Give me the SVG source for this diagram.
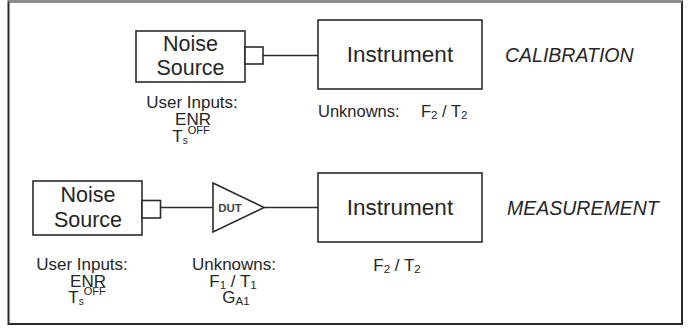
<svg xmlns="http://www.w3.org/2000/svg" width="690" height="328" viewBox="0 0 690 328">
<style>
.box{fill:#fff;stroke:#2b2b2b;stroke-width:1.6}
.ln{fill:none;stroke:#2b2b2b;stroke-width:1.6}
text{font-family:"Liberation Sans",Arial,sans-serif;fill:#262626}
.nb{font-size:21.5px;text-anchor:middle}
.ins{font-size:22.5px;text-anchor:middle}
.mode{font-size:19.5px;font-style:italic}
.lbl{font-size:17px;text-anchor:middle}
.dut{font-size:11.5px;font-weight:bold;text-anchor:middle;fill:#444}
</style>
<rect x="0" y="0" width="690" height="328" fill="#fff"/>
<rect x="8.5" y="1.5" width="673.5" height="322.5" fill="#fff" stroke="#2b2b2b" stroke-width="2"/>
<line x1="8.5" y1="1.5" x2="682" y2="1.5" stroke="#888" stroke-width="2"/>

<g id="connectors">
  <line class="ln" x1="263" y1="55.5" x2="318" y2="55.5"/>
  <line class="ln" x1="160.5" y1="207.5" x2="213" y2="207.5"/>
  <line class="ln" x1="264" y1="207.5" x2="318" y2="207.5"/>
</g>

<g id="cal-noise-source">
  <rect class="box" x="136" y="31" width="109" height="51"/>
  <rect class="box" x="245" y="47" width="18" height="17"/>
  <text class="nb" x="190.5" y="51">Noise</text>
  <text class="nb" x="190.5" y="75">Source</text>
</g>
<g id="cal-user-inputs">
  <text class="lbl" x="192" y="108">User Inputs:</text>
  <text class="lbl" x="193" y="125">ENR</text>
  <text class="lbl" x="191" y="141.5">T<tspan font-size="10px" dy="2">s</tspan><tspan font-size="11px" dy="-10">OFF</tspan></text>
</g>
<g id="cal-instrument">
  <rect class="box" x="318" y="20" width="164" height="69"/>
  <text class="ins" x="400" y="62">Instrument</text>
</g>
<g id="cal-unknowns">
  <text x="318" y="117" font-size="16.5px">Unknowns:</text>
  <text x="421" y="117" font-size="16.5px">F<tspan font-size="11.5px" dy="2">2</tspan><tspan dy="-2"> / T</tspan><tspan font-size="11.5px" dy="2">2</tspan></text>
</g>
<text id="calibration" class="mode" x="505" y="62">CALIBRATION</text>

<g id="meas-noise-source">
  <rect class="box" x="33" y="181" width="109" height="54"/>
  <rect class="box" x="142" y="200.5" width="18.5" height="17.5"/>
  <text class="nb" x="88" y="202">Noise</text>
  <text class="nb" x="88" y="227">Source</text>
</g>
<g id="meas-user-inputs">
  <text class="lbl" x="82" y="270">User Inputs:</text>
  <text class="lbl" x="88" y="286.5">ENR</text>
  <text class="lbl" x="87" y="303">T<tspan font-size="10px" dy="2">s</tspan><tspan font-size="11px" dy="-10">OFF</tspan></text>
</g>
<g id="dut">
  <polygon class="box" points="213,183 264,207.5 213,232"/>
  <text class="dut" x="230" y="211.5">DUT</text>
</g>
<g id="meas-unknowns">
  <text class="lbl" x="234" y="270">Unknowns:</text>
  <text class="lbl" x="233" y="286.5">F<tspan font-size="11.5px" dy="2">1</tspan><tspan dy="-2"> / T</tspan><tspan font-size="11.5px" dy="2">1</tspan></text>
  <text class="lbl" x="236" y="303">G<tspan font-size="11.5px" dy="2">A1</tspan></text>
</g>
<g id="meas-instrument">
  <rect class="box" x="318" y="173" width="164" height="69"/>
  <text class="ins" x="400" y="215">Instrument</text>
  <text class="lbl" x="397" y="271">F<tspan font-size="11.5px" dy="2">2</tspan><tspan dy="-2"> / T</tspan><tspan font-size="11.5px" dy="2">2</tspan></text>
</g>
<text id="measurement" class="mode" x="507" y="215">MEASUREMENT</text>
</svg>
